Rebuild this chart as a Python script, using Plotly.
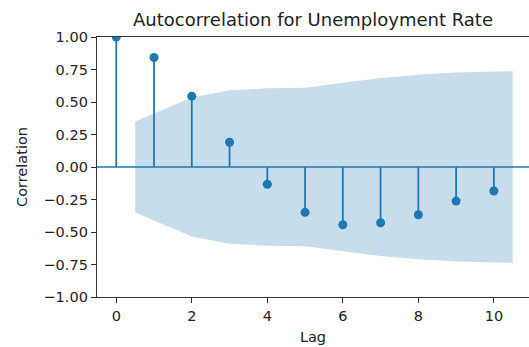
import plotly.graph_objects as go

lags = [0, 1, 2, 3, 4, 5, 6, 7, 8, 9, 10]
acf_values = [1.00, 0.842, 0.545, 0.19, -0.133, -0.349, -0.444, -0.429, -0.367, -0.262, -0.185]
band_x = [0.5, 2, 3, 4, 5, 6, 7, 8, 9, 10.5]
band_upper = [0.35, 0.535, 0.59, 0.605, 0.61, 0.645, 0.685, 0.71, 0.727, 0.737]
y_ticks = [-1.0, -0.75, -0.5, -0.25, 0.0, 0.25, 0.5, 0.75, 1.0]
x_ticks = [0, 2, 4, 6, 8, 10]

C0 = "#1f77b4"
FONT = "DejaVu Sans"

fig = go.Figure()

# confidence band
fig.add_trace(go.Scatter(
    x=band_x + band_x[::-1],
    y=band_upper + [-v for v in band_upper[::-1]],
    fill="toself", fillcolor="rgba(31,119,180,0.25)",
    line=dict(width=0), mode="lines", hoverinfo="skip", showlegend=False,
))

# zero line
fig.add_hline(y=0, line=dict(color=C0, width=1.6))

# stems
sx, sy = [], []
for l, v in zip(lags, acf_values):
    sx += [l, l, None]
    sy += [0, v, None]
fig.add_trace(go.Scatter(x=sx, y=sy, mode="lines", line=dict(color=C0, width=1.8),
                         showlegend=False, hoverinfo="skip"))
fig.add_trace(go.Scatter(x=lags, y=acf_values, mode="markers",
                         marker=dict(color=C0, size=9), showlegend=False, cliponaxis=True))

fig.update_layout(
    width=529, height=347,
    margin=dict(l=97, r=0, t=37, b=50),
    paper_bgcolor="white", plot_bgcolor="white",
    font=dict(family=FONT, size=14.5, color="#222"),
    title=dict(text="Autocorrelation for Unemployment Rate", x=0.5, xref="paper",
               y=1 - 20 / 347, yanchor="middle", font=dict(size=18, color="#222")),
    xaxis=dict(range=[-0.51, 10.93], tickvals=x_ticks, ticks="outside", ticklen=5,
               tickwidth=1.2, tickcolor="#333", showgrid=False, zeroline=False,
               showline=True, linecolor="#333", linewidth=1.4, mirror=True,
               title=dict(text="Lag", standoff=9, font=dict(size=14.5))),
    yaxis=dict(range=[-1, 1], tickvals=y_ticks, tickformat=".2f", ticks="outside",
               ticklen=5, tickwidth=1.2, tickcolor="#333", showgrid=False, zeroline=False,
               showline=True, linecolor="#333", linewidth=1.4,
               title=dict(text="Correlation", standoff=12, font=dict(size=14.5))),
)

fig.write_html("out.html")
